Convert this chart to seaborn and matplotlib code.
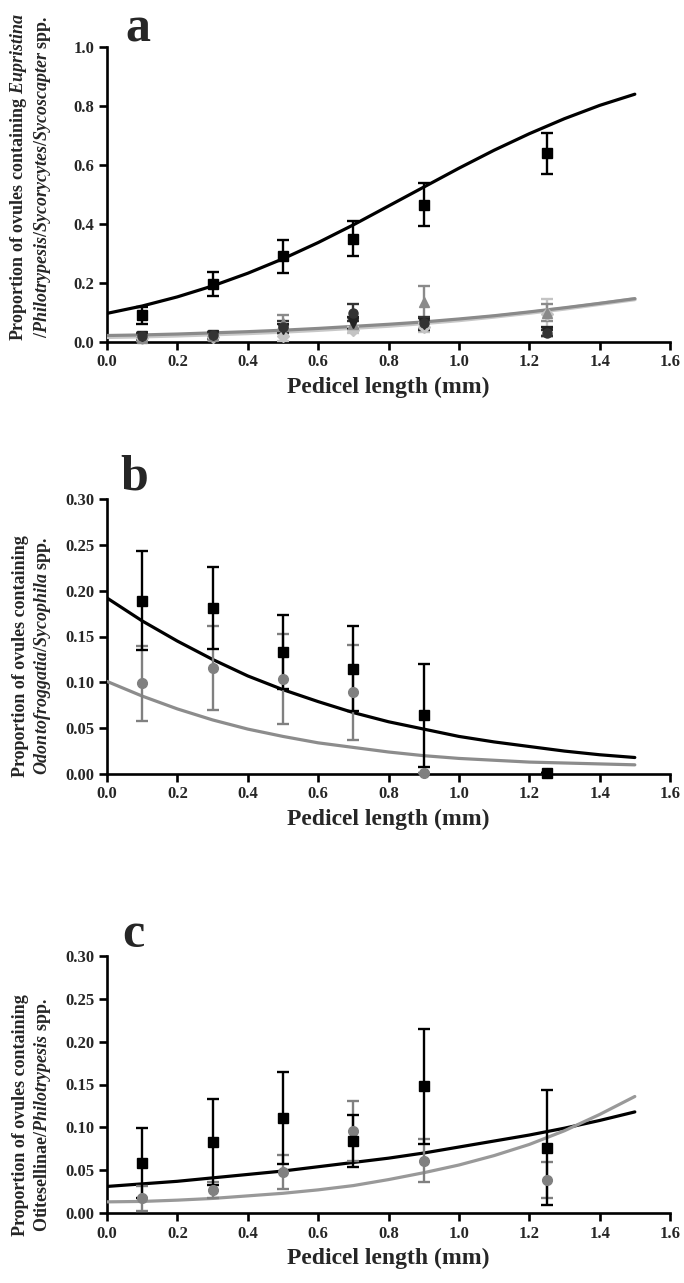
import matplotlib
matplotlib.use("Agg")
import matplotlib.pyplot as plt
import numpy as np
import pandas as pd
import seaborn as sns

# sampled points
pedicel = [0.1, 0.3, 0.5, 0.7, 0.9, 1.25]
curve_x = [0.0, 0.1, 0.2, 0.3, 0.4, 0.5, 0.6, 0.7, 0.8, 0.9, 1.0, 1.1, 1.2, 1.3, 1.4, 1.5]

# panel a
a_black = [0.090, 0.197, 0.290, 0.350, 0.465, 0.640]
a_black_err = [0.030, 0.040, 0.056, 0.060, 0.073, 0.070]
a_circle = [0.020, 0.025, 0.050, 0.100, 0.065, 0.030]
a_circle_err = [0.010, 0.010, 0.020, 0.030, 0.020, 0.010]
a_invtri = [0.020, 0.025, 0.045, 0.065, 0.060, 0.035]
a_invtri_err = [0.010, 0.010, 0.015, 0.020, 0.020, 0.015]
a_tri = [0.015, 0.020, 0.065, 0.060, 0.135, 0.100]
a_tri_err = [0.010, 0.010, 0.025, 0.020, 0.055, 0.030]
a_diamond = [0.012, 0.018, 0.020, 0.040, 0.050, 0.095]
a_diamond_err = [0.010, 0.012, 0.015, 0.010, 0.015, 0.050]
a_fit_black = [0.097, 0.122, 0.153, 0.190, 0.233, 0.282, 0.337, 0.397, 0.461, 0.525,
               0.589, 0.650, 0.706, 0.757, 0.802, 0.840]
a_fit_dark = [0.022, 0.024, 0.027, 0.031, 0.035, 0.040, 0.046, 0.053, 0.060, 0.068,
              0.078, 0.089, 0.102, 0.116, 0.131, 0.147]
a_fit_light = [0.017, 0.019, 0.022, 0.026, 0.030, 0.035, 0.041, 0.048, 0.055, 0.064,
               0.074, 0.086, 0.099, 0.113, 0.129, 0.145]

# panel b
b_black = [0.189, 0.181, 0.133, 0.115, 0.064, 0.001]
b_black_err = [0.054, 0.045, 0.040, 0.046, 0.056, 0.0]
b_gray = [0.099, 0.116, 0.104, 0.089, 0.001, 0.001]
b_gray_err = [0.041, 0.046, 0.049, 0.052, 0.0, 0.0]
b_fit_black = [0.192, 0.167, 0.145, 0.125, 0.107, 0.092, 0.079, 0.067, 0.057, 0.049,
               0.041, 0.035, 0.030, 0.025, 0.021, 0.018]
b_fit_gray = [0.101, 0.085, 0.071, 0.059, 0.049, 0.041, 0.034, 0.029, 0.024, 0.020,
              0.017, 0.015, 0.013, 0.012, 0.011, 0.010]

# panel c
c_black = [0.058, 0.083, 0.111, 0.084, 0.148, 0.076]
c_black_err = [0.041, 0.050, 0.054, 0.030, 0.067, 0.067]
c_gray = [0.017, 0.027, 0.048, 0.096, 0.061, 0.038]
c_gray_err = [0.015, 0.009, 0.020, 0.035, 0.025, 0.021]
c_fit_black = [0.031, 0.034, 0.037, 0.041, 0.045, 0.049, 0.054, 0.059, 0.064, 0.070,
               0.077, 0.084, 0.091, 0.099, 0.108, 0.118]
c_fit_gray = [0.013, 0.0135, 0.015, 0.017, 0.020, 0.023, 0.027, 0.032, 0.039, 0.047,
              0.056, 0.067, 0.080, 0.096, 0.115, 0.136]

ylabels = [
    "Proportion of ovules containing $\\mathit{Eupristina}$\n"
    "/$\\mathit{Philotrypesis}$/$\\mathit{Sycorycytes}$/$\\mathit{Sycoscapter}$ spp.",
    "Proportion of ovules containing\n$\\mathit{Odontofroggatia}$/$\\mathit{Sycophila}$ spp.",
    "Proportion of ovules containing\nOtitesellinae/$\\mathit{Philotrypesis}$ spp.",
]

sns.set_theme(style="ticks")
plt.rcParams.update(
    {
        "font.family": ["Liberation Serif", "DejaVu Serif"],
        "font.weight": "bold",
        "axes.labelweight": "bold",
        "mathtext.fontset": "custom",
        "mathtext.rm": "Liberation Serif:bold",
        "mathtext.it": "Liberation Serif:italic:bold",
        "mathtext.bf": "Liberation Serif:bold",
        "xtick.labelsize": 12,
        "ytick.labelsize": 12,
    }
)

W, H = 684, 1283
fig = plt.figure(figsize=(W / 100, H / 100), dpi=100)

# axes boxes in pixels: (top, bottom)
boxes = [(47, 342), (499, 774), (956, 1213)]
left_px, right_px = 107, 670
axes = []
for top, bottom in boxes:
    ax = fig.add_axes([left_px / W, 1 - bottom / H, (right_px - left_px) / W, (bottom - top) / H])
    axes.append(ax)


def eb(ax, y, err, marker, color, ms=7):
    ax.errorbar(pedicel, y, yerr=err, fmt=marker, color=color, ecolor=color, ms=ms,
                capsize=4.5, elinewidth=1.7, capthick=1.7, clip_on=False, zorder=4)


def curve(ax, y, color, lw=2.3):
    df = pd.DataFrame({"x": curve_x, "y": y})
    sns.lineplot(data=df, x="x", y="y", color=color, linewidth=lw, ax=ax, zorder=3)


# panel a
ax = axes[0]
curve(ax, a_fit_black, "black")
curve(ax, a_fit_light, "#c8c8c8", lw=3)
curve(ax, a_fit_dark, "#8a8a8a", lw=2.3)
eb(ax, a_diamond, a_diamond_err, "D", "#c4c4c4", ms=6)
eb(ax, a_tri, a_tri_err, "^", "#8a8a8a")
eb(ax, a_invtri, a_invtri_err, "v", "#222222")
eb(ax, a_circle, a_circle_err, "o", "#333333", ms=6.5)
eb(ax, a_black, a_black_err, "s", "black")
ax.set_ylim(0, 1.0)
ax.set_yticks(np.arange(0, 1.01, 0.2))
ax.yaxis.set_major_formatter(matplotlib.ticker.FormatStrFormatter("%.1f"))

# panel b
ax = axes[1]
curve(ax, b_fit_black, "black")
curve(ax, b_fit_gray, "#8c8c8c")
eb(ax, b_gray, b_gray_err, "o", "#808080")
eb(ax, b_black, b_black_err, "s", "black")
ax.set_ylim(0, 0.30)
ax.set_yticks(np.arange(0, 0.301, 0.05))
ax.yaxis.set_major_formatter(matplotlib.ticker.FormatStrFormatter("%.2f"))

# panel c
ax = axes[2]
curve(ax, c_fit_black, "black")
curve(ax, c_fit_gray, "#999999")
eb(ax, c_gray, c_gray_err, "o", "#808080")
eb(ax, c_black, c_black_err, "s", "black")
ax.set_ylim(0, 0.30)
ax.set_yticks(np.arange(0, 0.301, 0.05))
ax.yaxis.set_major_formatter(matplotlib.ticker.FormatStrFormatter("%.2f"))

label_y = [0.56, 0.43, 0.38]
letters = [("a", 138, 29), ("b", 134, 478), ("c", 133, 935)]
for ax, (top, bottom), lab, ly, (let, lx, lyy) in zip(axes, boxes, ylabels, label_y, letters):
    hpx = bottom - top
    ax.set_xlim(0, 1.6)
    ax.set_xticks(np.arange(0, 1.61, 0.2))
    ax.xaxis.set_major_formatter(matplotlib.ticker.FormatStrFormatter("%.1f"))
    sns.despine(ax=ax)
    for side in ["left", "bottom"]:
        ax.spines[side].set_linewidth(1.9)
        ax.spines[side].set_color("black")
    ax.tick_params(direction="out", length=6, width=1.9, color="black", pad=3)
    for t in ax.get_xticklabels() + ax.get_yticklabels():
        t.set_fontweight("bold")
    ax.set_xlabel("Pedicel length (mm)", fontsize=17, fontweight="bold")
    ax.xaxis.set_label_coords(0.5, -35 / hpx)
    ax.set_ylabel(lab, fontsize=13, fontweight="bold", linespacing=1.2)
    ax.yaxis.set_label_coords(-54 / (right_px - left_px), ly)
    fig.text(lx / W, 1 - lyy / H, let, fontsize=36, fontweight="bold", ha="center", va="center")

fig.savefig("out.png", dpi=100)
